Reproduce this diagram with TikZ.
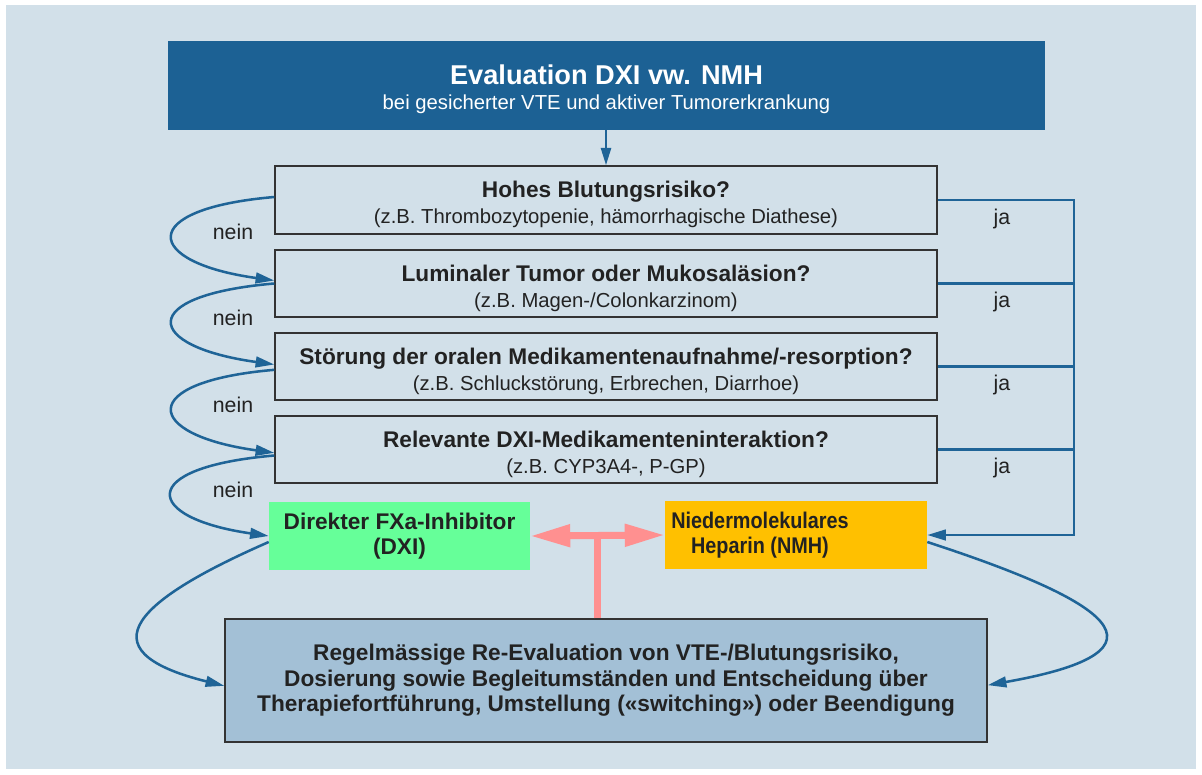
\documentclass[tikz,border=0pt]{standalone}
\usepackage{fontspec}
\setmainfont{Liberation Sans}
\usetikzlibrary{arrows.meta}
\definecolor{bg}{HTML}{D2E0E9}
\definecolor{topblue}{HTML}{1C6194}
\definecolor{lineblue}{HTML}{1F6497}
\definecolor{txt}{HTML}{222222}
\definecolor{dxigreen}{HTML}{66FF99}
\definecolor{nmhyellow}{HTML}{FFC000}
\definecolor{botblue}{HTML}{A3C0D6}
\definecolor{tpink}{HTML}{FF9090}
\newcommand\fT{\fontsize{20.4}{23}\selectfont\bfseries}
\newcommand\fS{\fontsize{15.2}{19}\selectfont}
\newcommand\fB{\fontsize{17}{19}\selectfont\bfseries}
\newcommand\qup{\rule{0pt}{19.5pt}}
\begin{document}
\begin{tikzpicture}[x=0.75pt,y=-0.75pt,
  qbox/.style={draw=black!80, line width=1.1pt, fill=bg, text=txt, align=center,
    minimum width=496.5pt, minimum height=51pt, inner sep=0pt, font=\fontsize{15.2}{19.5}\selectfont},
  conn/.style={draw=lineblue, line width=1.9pt},
  arr/.style={conn, -{Triangle[length=14pt,width=8pt]}},
  lbl/.style={text=txt, font=\fontsize{16}{19}\selectfont, inner sep=0pt},
  pinkline/.style={draw=tpink, line width=5.25pt}
]
\useasboundingbox (0,0) rectangle (1202,774);
\fill[bg] (6,5) rectangle (1196,769);

% top box
\node[fill=topblue, text=white, align=center, minimum width=657.75pt, minimum height=66.75pt, inner sep=0pt, font=\fontsize{15.2}{19.5}\selectfont]
  (top) at (606.5,85.5) {\rule{0pt}{19pt}\raisebox{-1pt}{\fT Evaluation DXI vw. NMH}\\\fS bei gesicherter VTE und aktiver Tumorerkrankung};

% question boxes
\node[qbox] (q1) at (606,200) {\qup\fB Hohes Blutungsrisiko?\\\fS (z.B. Thrombozytopenie, hämorrhagische Diathese)};
\node[qbox, minimum height=50.25pt] (q2) at (606,283.5) {\qup\fB Luminaler Tumor oder Mukosaläsion?\\\fS (z.B. Magen-/Colonkarzinom)};
\node[qbox, minimum height=50.25pt] (q3) at (606,366.5) {\qup\fB Störung der oralen Medikamentenaufnahme/-resorption?\\\fS (z.B. Schluckstörung, Erbrechen, Diarrhoe)};
\node[qbox, minimum height=50.25pt] (q4) at (606,449.5) {\qup\fB Relevante DXI-Medikamenteninteraktion?\\\fS (z.B. CYP3A4-, P-GP)};

% therapy boxes
\node[fill=dxigreen, text=txt, align=center, minimum width=195.75pt, minimum height=51pt, inner sep=0pt, font=\fB]
  (dxi) at (399.5,536) {Direkter FXa-Inhibitor\\(DXI)};
\node[fill=nmhyellow, minimum width=196.5pt, minimum height=51pt, inner sep=0pt]
  (nmh) at (796,535) {};
\node[text=txt, align=center, inner sep=0pt, font=\fB, xscale=0.875] (nmhtext) at (760,535) {Niedermolekulares\\Heparin (NMH)};

% bottom box
\node[draw=black!80, line width=1.1pt, fill=botblue, text=txt, align=center, minimum width=571.5pt, minimum height=92.25pt, inner sep=0pt, font=\fB]
  (bot) at (606,680.5) {Regelmässige Re-Evaluation von VTE-/Blutungsrisiko,\\Dosierung sowie Begleitumständen und Entscheidung über\\Therapiefortführung, Umstellung («switching») oder Beendigung};

% top arrow
\draw[conn, -{Triangle[length=13pt,width=7.5pt]}] (top.south -| q1.north) -- (q1.north);

% nein curves
\draw[arr] ([yshift=2.25pt]q1.west) .. controls +(-140,12) and +(-130,-18) .. ([yshift=2.25pt]q2.west);
\draw[arr] (q2.west) .. controls +(-140,12) and +(-130,-18) .. ([yshift=1.5pt]q3.west);
\draw[arr] ([yshift=-2.5pt]q3.west) .. controls +(-140,12) and +(-130,-18) .. ([yshift=-2.5pt]q4.west);
\draw[arr] ([yshift=-4.5pt]q4.west) .. controls +(-140,12) and +(-125,-18) .. (dxi.west);
\node[lbl] (n1) at (233,232) {nein};
\node[lbl] (n2) at (233,318) {nein};
\node[lbl] (n3) at (233,405) {nein};
\node[lbl] (n4) at (233,490) {nein};

% ja rail
\coordinate (rail) at (1074,200);
\draw[arr] (q1.east) -- (q1.east -| rail) |- (nmh.east);
\draw[conn] (q2.east) -- (q2.east -| rail);
\draw[conn] (q3.east) -- (q3.east -| rail);
\draw[conn] (q4.east) -- (q4.east -| rail);
\node[lbl] (j1) at (1002,219) {ja};
\node[lbl] (j2) at (1002,302) {ja};
\node[lbl] (j3) at (1002,385) {ja};
\node[lbl] (j4) at (1002,468) {ja};

% pink T
\coordinate (tj) at (597,536);
\draw[pinkline, {Triangle[length=30pt,width=16pt]}-{Triangle[length=30pt,width=16pt]}] (dxi.east) -- (nmh.west);
\draw[pinkline] (bot.north -| tj) -- (tj);

% to re-evaluation
\draw[arr] ([yshift=-4.5pt]dxi.west) .. controls +(-128,56) and +(-145,-36) .. ([yshift=-4pt]bot.west);
\draw[arr] ([yshift=-5.25pt]nmh.east) .. controls +(178,58) and +(198,-35) .. ([yshift=-3.5pt]bot.east);
\end{tikzpicture}
\end{document}
